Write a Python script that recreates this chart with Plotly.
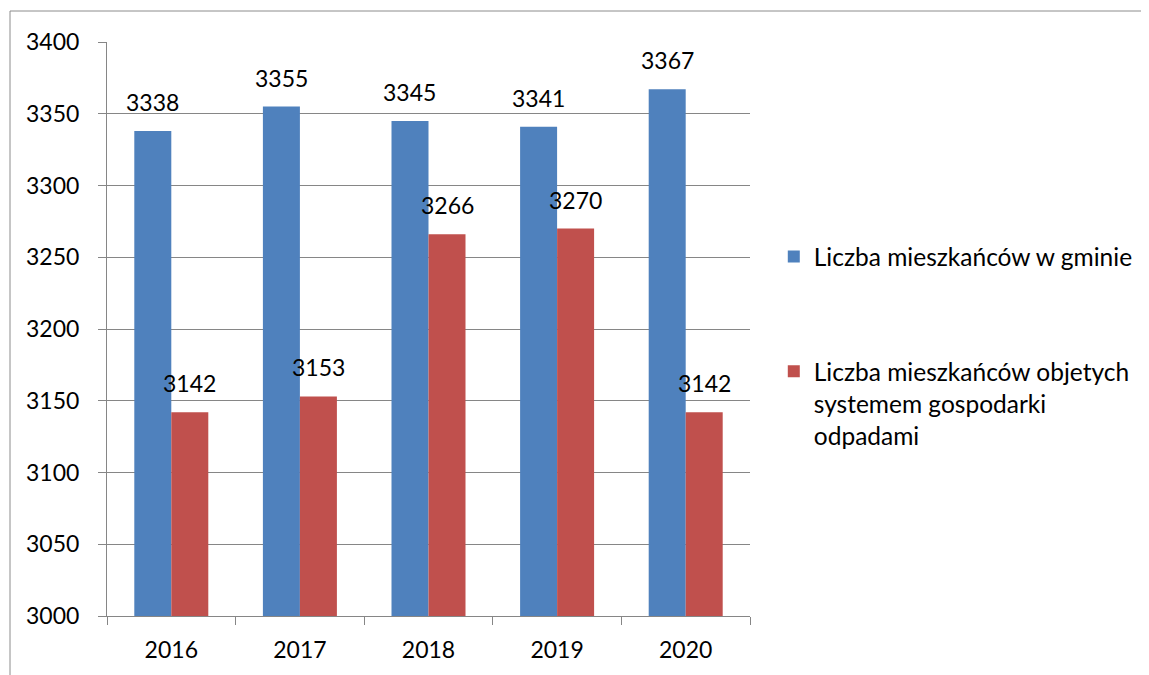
import plotly.graph_objects as go

years = ["2016", "2017", "2018", "2019", "2020"]
residents = [3338, 3355, 3345, 3341, 3367]
covered = [3142, 3153, 3266, 3270, 3142]
series_names = ["Liczba mieszkańców w gminie",
                "Liczba mieszkańców objetych<br>systemem gospodarki<br>odpadami"]
colors = ["#4F81BD", "#C0504D"]
y_ticks = [3000, 3050, 3100, 3150, 3200, 3250, 3300, 3350, 3400]

FONT = "Lato"
FS = 23
W, H = 1149, 675
OFF = 8  # page body margin
plot_w, plot_h = 643, 574
L, T = 107 - OFF, 42 - OFF
R = W - L - plot_w
B = H - T - plot_h

fig = go.Figure()
for i, (vals, name) in enumerate(zip([residents, covered], series_names)):
    fig.add_trace(go.Bar(
        x=years, y=vals, name=name, marker_color=colors[i],
        marker_line_width=0, legendgroup=str(i),
    ))

cat_w = plot_w / len(years)
bar_w = cat_w * (1 - 0.4245) / 2
annotations = []
for i, vals in enumerate([residents, covered]):
    shift = (-0.5 + i) * bar_w
    for k, v in enumerate(vals):
        annotations.append(dict(
            x=k, y=v, xref="x", yref="y", text=str(v), showarrow=False,
            xshift=shift, yshift=13, yanchor="bottom", xanchor="center",
            font=dict(family=FONT, size=FS, color="#000000"),
        ))

fig.update_layout(
    width=W, height=H,
    margin=dict(l=L, r=R, t=T, b=B, autoexpand=False),
    paper_bgcolor="white", plot_bgcolor="white",
    barmode="group", bargap=0.4245, bargroupgap=0,
    font=dict(family=FONT, size=FS, color="#000000"),
    annotations=annotations,
    showlegend=True,
    legend=dict(
        x=1.037, y=0.655 + 6 / plot_h, xanchor="left", yanchor="top",
        traceorder="grouped", tracegroupgap=80, valign="top",
        font=dict(family=FONT, size=24.5, color="#000000"),
        bgcolor="rgba(0,0,0,0)",
    ),
    shapes=[dict(
        type="rect", xref="paper", yref="paper",
        x0=(10 - OFF - L) / plot_w, x1=1.8, y0=-0.3,
        y1=(T + plot_h - (11 - OFF)) / plot_h,
        line=dict(color="#8c8c8c", width=1), fillcolor="rgba(0,0,0,0)",
        layer="below",
    )],
    xaxis=dict(
        type="category", range=[-0.5, len(years) - 0.5],
        showgrid=False, showline=True, linecolor="#868686",
        linewidth=1, ticks="outside", tickson="boundaries", ticklen=8,
        tickcolor="#868686", tickwidth=1, ticklabelstandoff=13,
        tickfont=dict(family=FONT, size=FS, color="#000000"),
    ),
    yaxis=dict(
        range=[3000, 3400], tickvals=y_ticks, showgrid=True,
        gridcolor="#868686", gridwidth=1, showline=True, linecolor="#868686",
        linewidth=1, ticks="outside", ticklen=8, tickcolor="#868686",
        tickwidth=1, ticklabelstandoff=14, zeroline=False,
        tickfont=dict(family=FONT, size=FS, color="#000000"),
    ),
)

fig.write_html("out.html")
